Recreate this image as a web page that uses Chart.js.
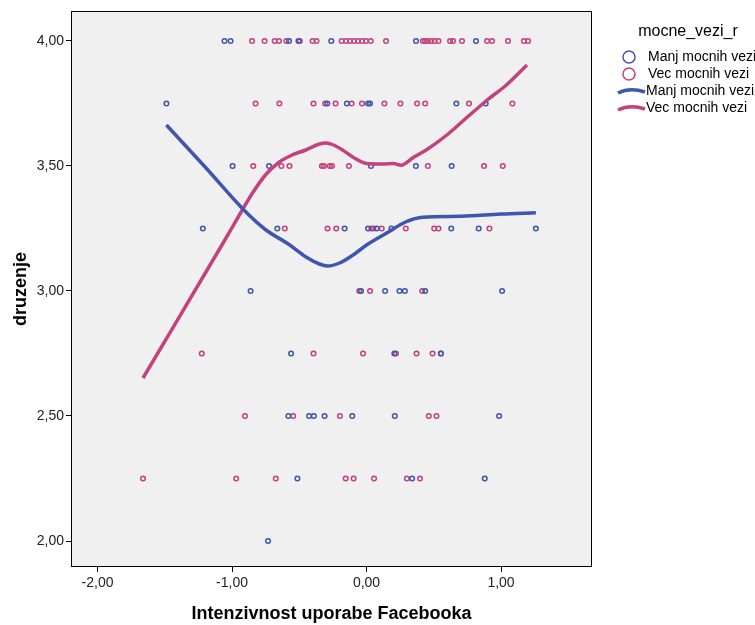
<!DOCTYPE html>
<html>
<head>
<meta charset="utf-8">
<script src="https://cdn.jsdelivr.net/npm/chart.js@4.4.1/dist/chart.umd.min.js"></script>
<style>
  html, body { margin: 0; padding: 0; background: #fff; }
  canvas { display: block; }
</style>
</head>
<body>
<canvas id="chart" width="755" height="625"></canvas>
<script>
// druzenje levels (y) and the Facebook intensity scores (x) found at each level
const levels = [4.00, 3.75, 3.50, 3.25, 3.00, 2.75, 2.50, 2.25, 2.00];

const manjX = [
  [-1.056, -1.011, -0.576, -0.506, -0.262, 0.368, 0.814],
  [-1.488, -0.292, -0.146, 0.011, 0.026, 0.668, 0.886],
  [-0.996, -0.725, 0.033, 0.367, 0.633],
  [-1.217, -0.663, -0.163, 0.011, 0.076, 0.185, 0.630, 0.834, 1.259],
  [-0.862, -0.041, 0.138, 0.245, 0.285, 0.436, 1.008],
  [-0.561, 0.207, 0.553],
  [-0.581, -0.427, -0.392, -0.312, -0.106, 0.210, 0.986],
  [-0.514, 0.339, 0.879],
  [-0.732]
];

const vecX = [
  [-0.851, -0.758, -0.683, -0.651, -0.596, -0.496, -0.401, -0.372, -0.185, -0.153, -0.123,
   -0.093, -0.063, -0.033, -0.004, 0.031, 0.145, 0.419, 0.435, 0.456, 0.480, 0.506, 0.535,
   0.621, 0.643, 0.710, 0.896, 0.933, 1.052, 1.170, 1.201],
  [-0.825, -0.648, -0.394, -0.307, -0.230, -0.111, -0.034, 0.133, 0.252, 0.376, 0.436, 0.762, 1.085],
  [-0.842, -0.633, -0.573, -0.332, -0.317, -0.273, -0.257, -0.131, 0.456, 0.874, 1.013],
  [-0.608, -0.290, -0.225, 0.036, 0.051, 0.113, 0.292, 0.503, 0.535, 0.914],
  [-0.054, 0.026, 0.414],
  [-1.225, -0.394, -0.026, 0.219, 0.372, 0.491, 0.553],
  [-0.904, -0.546, -0.198, 0.463, 0.520],
  [-1.662, -0.969, -0.675, -0.155, -0.096, 0.056, 0.300, 0.398],
  []
];

// loess fit lines
const manjLineX = [-1.488, -1.2, -0.912, -0.75, -0.576, -0.45, -0.35, -0.29, -0.2, -0.1, 0, 0.15, 0.294, 0.419, 0.7, 1.0, 1.259];
const manjLineY = [3.664, 3.496, 3.324, 3.245, 3.186, 3.136, 3.108, 3.100, 3.112, 3.144, 3.184, 3.232, 3.277, 3.295, 3.299, 3.308, 3.313];

const vecLineX = [-1.662, -1.073, -0.924, -0.85, -0.75, -0.65, -0.55, -0.451, -0.35, -0.3, -0.25, -0.178, -0.1, 0, 0.12, 0.2, 0.256, 0.35, 0.444, 0.6, 0.729, 0.9, 1.04, 1.193];
const vecLineY = [2.652, 3.186, 3.324, 3.390, 3.465, 3.515, 3.545, 3.564, 3.588, 3.592, 3.585, 3.564, 3.535, 3.510, 3.508, 3.510, 3.503, 3.535, 3.564, 3.625, 3.686, 3.765, 3.824, 3.904];

const xTicks = [-2, -1, 0, 1];
const yTicks = [2.0, 2.5, 3.0, 3.5, 4.0];

const groupNames = ['Manj mocnih vezi', 'Vec mocnih vezi'];
const legendTitle = 'mocne_vezi_r';

const BLUE = '#3F55AE';
const PINK = '#C4417F';
const FONT = '"Liberation Sans", Arial, sans-serif';

function toPoints(rows) {
  const out = [];
  rows.forEach((xs, i) => xs.forEach(x => out.push({ x: x, y: levels[i] })));
  return out;
}
function toLine(xs, ys) {
  return xs.map((x, i) => ({ x: x, y: ys[i] }));
}
const fmt = v => Number(v).toFixed(2).replace('.', ',');

const framePlugin = {
  id: 'framePlugin',
  beforeDraw(chart) {
    const { ctx, chartArea: a } = chart;
    ctx.save();
    ctx.fillStyle = '#F0F0F0';
    ctx.fillRect(a.left, a.top, a.right - a.left, a.bottom - a.top);
    ctx.restore();
  },
  afterDraw(chart) {
    const { ctx, chartArea: a } = chart;
    ctx.save();
    ctx.strokeStyle = '#000';
    ctx.lineWidth = 1;
    ctx.strokeRect(a.left - 0.5, a.top - 0.5, a.right - a.left + 1, a.bottom - a.top + 1);

    // legend
    ctx.fillStyle = '#000';
    ctx.textBaseline = 'middle';
    ctx.font = '16px ' + FONT;
    ctx.textAlign = 'center';
    ctx.fillText(legendTitle, 688, 32);

    ctx.font = '14px ' + FONT;
    ctx.textAlign = 'left';
    const rows = [
      { kind: 'circle', color: BLUE, text: groupNames[0], y: 57 },
      { kind: 'circle', color: PINK, text: groupNames[1], y: 74 },
      { kind: 'line', color: BLUE, text: groupNames[0], y: 91 },
      { kind: 'line', color: PINK, text: groupNames[1], y: 108 }
    ];
    rows.forEach(r => {
      ctx.strokeStyle = r.color;
      if (r.kind === 'circle') {
        ctx.lineWidth = 1.5;
        ctx.beginPath();
        ctx.arc(629, r.y, 6, 0, Math.PI * 2);
        ctx.stroke();
        ctx.fillStyle = '#000';
        ctx.fillText(r.text, 648, r.y);
      } else {
        ctx.lineWidth = 3.5;
        ctx.beginPath();
        ctx.moveTo(618, r.y + 2);
        ctx.bezierCurveTo(626, r.y - 2, 636, r.y - 2, 645, r.y + 1);
        ctx.stroke();
        ctx.fillStyle = '#000';
        ctx.fillText(r.text, 646, r.y);
      }
    });
    ctx.restore();
  }
};

new Chart(document.getElementById('chart').getContext('2d'), {
  type: 'scatter',
  data: {
    datasets: [
      {
        label: groupNames[0] + ' fit',
        data: toLine(manjLineX, manjLineY),
        showLine: true,
        borderColor: BLUE,
        borderWidth: 3.5,
        pointRadius: 0,
        cubicInterpolationMode: 'monotone',
        order: 1
      },
      {
        label: groupNames[1] + ' fit',
        data: toLine(vecLineX, vecLineY),
        showLine: true,
        borderColor: PINK,
        borderWidth: 3.5,
        pointRadius: 0,
        cubicInterpolationMode: 'monotone',
        order: 1
      },
      {
        label: groupNames[0],
        data: toPoints(manjX),
        borderColor: BLUE,
        backgroundColor: 'rgba(0,0,0,0)',
        pointRadius: 2.3,
        borderWidth: 1.5,
        order: 2
      },
      {
        label: groupNames[1],
        data: toPoints(vecX),
        borderColor: PINK,
        backgroundColor: 'rgba(0,0,0,0)',
        pointRadius: 2.3,
        borderWidth: 1.5,
        order: 2
      }
    ]
  },
  options: {
    responsive: false,
    animation: false,
    layout: { padding: { top: 12, right: 164, left: 0, bottom: 0 } },
    plugins: {
      legend: { display: false },
      tooltip: { enabled: false }
    },
    scales: {
      x: {
        type: 'linear',
        min: -2.19,
        max: 1.669,
        afterBuildTicks: s => { s.ticks = xTicks.map(v => ({ value: v })); },
        afterFit: s => { s.height = 59; },
        border: { display: false },
        grid: { drawOnChartArea: false, tickLength: 6, tickColor: '#000', lineWidth: 1 },
        ticks: {
          callback: v => fmt(v),
          color: '#222',
          font: { size: 14, family: FONT },
          padding: 3,
          maxRotation: 0
        },
        title: {
          display: true,
          text: 'Intenzivnost uporabe Facebooka',
          color: '#000',
          font: { size: 18, weight: 'bold', family: FONT },
          padding: { top: 0, bottom: 0 }
        }
      },
      y: {
        type: 'linear',
        min: 1.9,
        max: 4.116,
        afterBuildTicks: s => { s.ticks = yTicks.map(v => ({ value: v })); },
        afterFit: s => { s.width = 72; },
        border: { display: false },
        grid: { drawOnChartArea: false, tickLength: 6, tickColor: '#000', lineWidth: 1 },
        ticks: {
          callback: v => fmt(v),
          color: '#222',
          font: { size: 14, family: FONT },
          padding: 2
        },
        title: {
          display: true,
          text: 'druzenje',
          color: '#000',
          font: { size: 18, weight: 'bold', family: FONT },
          padding: { top: 10, bottom: 0 }
        }
      }
    }
  },
  plugins: [framePlugin]
});
</script>
</body>
</html>
